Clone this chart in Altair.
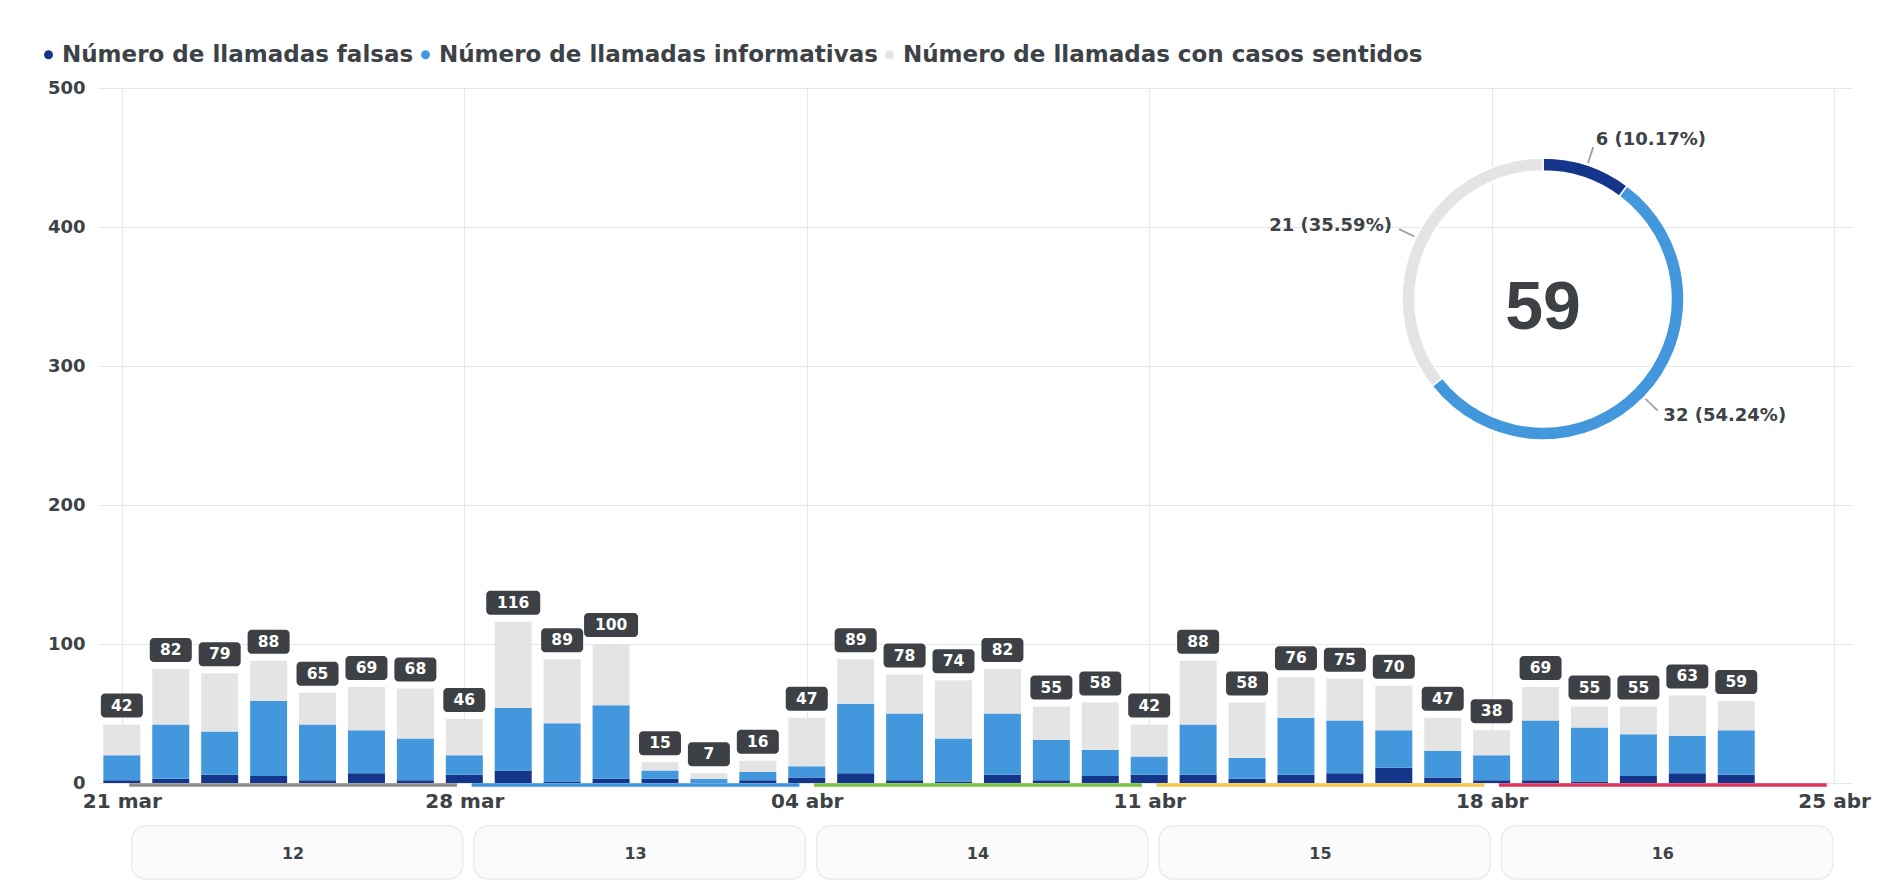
import altair as alt
import pandas as pd

# ---------------- data ----------------
fechas = [
    "2020-03-21", "2020-03-22", "2020-03-23", "2020-03-24", "2020-03-25", "2020-03-26", "2020-03-27",
    "2020-03-28", "2020-03-29", "2020-03-30", "2020-03-31", "2020-04-01", "2020-04-02", "2020-04-03",
    "2020-04-04", "2020-04-05", "2020-04-06", "2020-04-07", "2020-04-08", "2020-04-09", "2020-04-10",
    "2020-04-11", "2020-04-12", "2020-04-13", "2020-04-14", "2020-04-15", "2020-04-16", "2020-04-17",
    "2020-04-18", "2020-04-19", "2020-04-20", "2020-04-21", "2020-04-22", "2020-04-23",
]
falsas = [2, 3, 6, 5, 2, 7, 2,
          6, 9, 1, 3, 3, 0, 2,
          4, 7, 2, 1, 6, 2, 5,
          6, 6, 3, 6, 7, 11, 4,
          2, 2, 1, 5, 7, 6]
informativas = [18, 39, 31, 54, 40, 31, 30,
                14, 45, 42, 53, 6, 3, 6,
                8, 50, 48, 31, 44, 29, 19,
                13, 36, 15, 41, 38, 27, 19,
                18, 43, 39, 30, 27, 32]
sentidos = [22, 40, 42, 29, 23, 31, 36,
            26, 62, 46, 44, 6, 4, 8,
            35, 32, 28, 42, 32, 24, 34,
            23, 46, 40, 29, 30, 32, 24,
            18, 24, 15, 20, 29, 21]
series = ["Número de llamadas falsas", "Número de llamadas informativas",
          "Número de llamadas con casos sentidos"]

semanas = ["12", "13", "14", "15", "16"]
semana_ini = ["2020-03-21", "2020-03-28", "2020-04-04", "2020-04-11", "2020-04-18"]
semana_fin = ["2020-03-28", "2020-04-04", "2020-04-11", "2020-04-18", "2020-04-25"]

ticks_x = [(2020, 3, 21), (2020, 3, 28), (2020, 4, 4), (2020, 4, 11), (2020, 4, 18), (2020, 4, 25)]
meses = ["ene", "feb", "mar", "abr", "may", "jun", "jul", "ago", "sep", "oct", "nov", "dic"]
ticks_y = [0, 100, 200, 300, 400, 500]

# ---------------- styles ----------------
colores = ["#15358a", "#4398dd", "#e4e4e4"]
colores_semana = ["#8c8c8c", "#3f93dc", "#7cc144", "#f3c84a", "#e0315a"]
TXT = "#3d4247"
BOX = "#3d4145"
FONT = "DejaVu Sans"
W, H = 1754, 695
CX, CY = 1445, 211

rows = []
for i, f in enumerate(fechas):
    for k, vals in enumerate([falsas, informativas, sentidos]):
        rows.append({"fecha": f, "serie": series[k], "orden": k, "valor": vals[i]})
df = pd.DataFrame(rows)

dn = pd.DataFrame({"serie": series, "orden": [0, 1, 2],
                   "valor": [falsas[-1], informativas[-1], sentidos[-1]]})
wk = pd.DataFrame({"semana": semanas, "ini": semana_ini, "fin": semana_fin})

xscale = alt.Scale(type="utc", domain=[
    alt.DateTime(year=2020, month=3, date=20, hours=14, minutes=45, utc=True),
    alt.DateTime(year=2020, month=4, date=25, hours=6, minutes=20, utc=True)])
xaxis = alt.Axis(
    values=[alt.DateTime(year=y, month=m, date=d, utc=True) for (y, m, d) in ticks_x],
    labelExpr="utcFormat(datum.value, '%d') + ' ' + " + str(meses) + "[utcmonth(datum.value)]",
    grid=True, gridColor="#e6e6e6", domain=False, ticks=False, title=None,
    labelFont=FONT, labelFontWeight="bold", labelFontSize=20, labelColor=TXT,
    labelPadding=8, labelFlush=False, labelOverlap=False)


def xenc(field, **kw):
    return alt.X(field, type="temporal", scale=xscale, axis=xaxis, **kw)


color_enc = alt.Color(
    "serie:N", scale=alt.Scale(domain=series, range=colores),
    legend=alt.Legend(orient="none", legendX=-61, legendY=-45, direction="horizontal",
                      title=None, symbolType="circle", symbolSize=80, symbolStrokeWidth=0,
                      labelFont=FONT, labelFontWeight="bold", labelFontSize=23,
                      labelColor=TXT, columnPadding=-7, labelOffset=2, labelLimit=0))

bars = alt.Chart(df).mark_bar(width=37).encode(
    x=xenc("fecha"),
    y=alt.Y("valor:Q", stack="zero", scale=alt.Scale(domain=[0, 500], nice=False),
            axis=alt.Axis(values=ticks_y, grid=True, gridColor="#e6e6e6", domain=False,
                          ticks=False, title=None, labelFont=FONT, labelFontWeight="bold",
                          labelFontSize=18, labelColor=TXT, labelPadding=13)),
    color=color_enc,
    order=alt.Order("orden:Q", sort="ascending"),
)

tot = alt.Chart(df).transform_aggregate(total="sum(valor)", groupby=["fecha"])
box2 = tot.transform_filter("datum.total < 100").mark_rect(
    width=42, height=24, yOffset=-19, cornerRadius=4, color=BOX).encode(
    x=xenc("fecha"), y=alt.Y("total:Q"))
box3 = tot.transform_filter("datum.total >= 100").mark_rect(
    width=54, height=24, yOffset=-19, cornerRadius=4, color=BOX).encode(
    x=xenc("fecha"), y=alt.Y("total:Q"))
lbl = tot.mark_text(yOffset=-19, font=FONT, fontWeight="bold", fontSize=15.5,
                    color="white").encode(x=xenc("fecha"), y=alt.Y("total:Q"),
                                          text=alt.Text("total:Q"))

# weeks navigator
wbase = alt.Chart(wk).transform_calculate(
    a="toNumber(toDate(datum.ini))", b="toNumber(toDate(datum.fin))").transform_calculate(
    x0="datum.a + 0.2*86400000", x1="datum.b - 0.03*86400000",
    r0="datum.a + 0.15*86400000", r1="datum.b - 0.15*86400000",
    xm="(datum.a + datum.b)/2")
wrect = wbase.mark_rect(cornerRadius=14, fill="#fbfbfb", stroke="#ececec",
                        strokeWidth=1.5).encode(
    x=xenc("x0:T"), x2="x1:T", y=alt.value(738), y2=alt.value(791))
wtext = wbase.mark_text(font=FONT, fontWeight="bold", fontSize=16, color=TXT).encode(
    x=xenc("xm:T"), y=alt.value(766), text="semana:N")
wrule = wbase.mark_rule(strokeWidth=3.5).encode(
    x=xenc("r0:T"), x2="r1:T", y=alt.value(H + 2),
    stroke=alt.Stroke("semana:N", scale=alt.Scale(domain=semanas, range=colores_semana),
                      legend=None))

# donut
arc = alt.Chart(dn).mark_arc(innerRadius=128, outerRadius=141, stroke="white",
                             strokeWidth=1.5).encode(
    theta=alt.Theta("valor:Q", stack=True), color=color_enc,
    order=alt.Order("orden:Q", sort="ascending"),
    x=alt.value(CX), y=alt.value(CY))

dbase = alt.Chart(dn).transform_joinaggregate(tot="sum(valor)").transform_window(
    cum="sum(valor)", sort=[alt.SortField("orden")], frame=[None, 0]).transform_calculate(
    mid="(datum.cum - datum.valor/2)/datum.tot",
    etiqueta="datum.valor + ' (' + format(datum.valor/datum.tot*100, '.2f') + '%)'")
conector = dbase.transform_calculate(
    t0="datum.mid*2*PI - 0.006", t1="datum.mid*2*PI + 0.006").mark_arc(
    innerRadius=143, outerRadius=160, color="#a0a0a0").encode(
    theta=alt.Theta("t0:Q", scale=None), theta2="t1:Q",
    x=alt.value(CX), y=alt.value(CY))
dright = dbase.transform_calculate(t="datum.mid < 0.5 ? datum.etiqueta : ''").mark_text(
    radius=168, align="left", font=FONT, fontWeight="bold", fontSize=18, color=TXT).encode(
    theta=alt.Theta("valor:Q", stack=True), order=alt.Order("orden:Q", sort="ascending"),
    text="t:N", x=alt.value(CX), y=alt.value(CY))
dleft = dbase.transform_calculate(t="datum.mid >= 0.5 ? datum.etiqueta : ''").mark_text(
    radius=168, align="right", font=FONT, fontWeight="bold", fontSize=18, color=TXT).encode(
    theta=alt.Theta("valor:Q", stack=True), order=alt.Order("orden:Q", sort="ascending"),
    text="t:N", x=alt.value(CX), y=alt.value(CY))
centro = alt.Chart(dn).mark_text(font="Liberation Sans", fontWeight="bold", fontSize=68,
                                 color=BOX).encode(
    text=alt.Text("sum(valor):Q"), x=alt.value(CX), y=alt.value(CY + 10))

chart = alt.layer(wrect, wtext, bars, wrule, box2, box3, lbl, arc, conector, dright, dleft,
                  centro).properties(
    width=W, height=H,
    padding={"left": 90, "top": 80, "right": 25, "bottom": 100},
    autosize=alt.AutoSizeParams(type="none"),
    background="white",
).configure_view(stroke=None)

chart.save("out.html", embed_options={"renderer": "svg", "actions": False})
